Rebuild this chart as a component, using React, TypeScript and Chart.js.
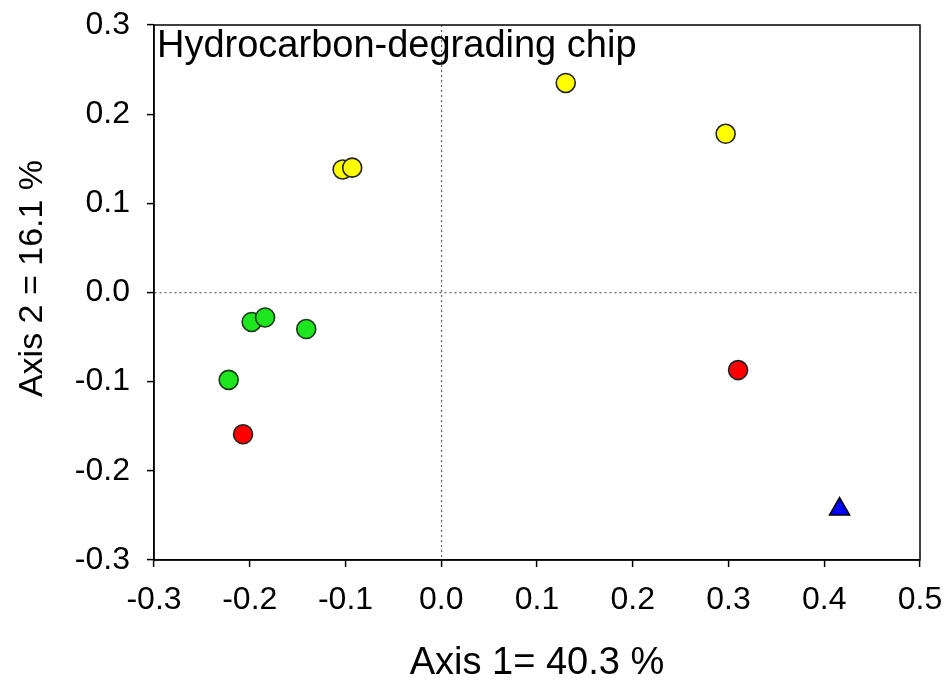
import React, { useEffect, useRef } from 'react';
import { Chart, registerables } from 'chart.js';

Chart.register(...registerables);

const FONT = '"Liberation Sans", Arial, Helvetica, sans-serif';

const chartTitle = 'Hydrocarbon-degrading chip';
const xAxisTitle = 'Axis 1= 40.3 %';
const yAxisTitle = 'Axis 2 = 16.1 %';

const xTicks = [-0.3, -0.2, -0.1, 0.0, 0.1, 0.2, 0.3, 0.4, 0.5];
const yTicks = [-0.3, -0.2, -0.1, 0.0, 0.1, 0.2, 0.3];

const yellowX = [0.130, 0.297, -0.103, -0.093];
const yellowY = [0.235, 0.178, 0.138, 0.140];

const greenX = [-0.198, -0.184, -0.141, -0.222];
const greenY = [-0.033, -0.028, -0.041, -0.098];

const redX = [-0.207, 0.310];
const redY = [-0.159, -0.087];

const blueX = [0.416];
const blueY = [-0.243];

const toPoints = (xs: number[], ys: number[]) => xs.map((x, i) => ({ x, y: ys[i] }));

const framePlugin = {
  id: 'frameAndTitle',
  afterDraw(chart: any) {
    const { ctx, chartArea } = chart;
    const { left, top, right, bottom } = chartArea;
    ctx.save();
    ctx.strokeStyle = '#000';
    ctx.lineWidth = 1.5;
    ctx.strokeRect(left, top, right - left, bottom - top);
    ctx.fillStyle = '#000';
    ctx.font = `38px ${FONT}`;
    ctx.textAlign = 'left';
    ctx.textBaseline = 'alphabetic';
    ctx.fillText(chartTitle, left + 3, top + 32);
    // y-axis title, placed like the original (slightly above the axis centre)
    ctx.font = `34px ${FONT}`;
    ctx.textAlign = 'center';
    ctx.textBaseline = 'middle';
    ctx.translate(33, (top + bottom) / 2 - 14);
    ctx.rotate(-Math.PI / 2);
    ctx.fillText(yAxisTitle, 0, 0);
    ctx.restore();
  },
};

const zeroColor = (c: any) =>
  c.tick && Math.abs(c.tick.value) < 1e-9 ? '#666666' : 'rgba(0,0,0,0)';

const noPad = (scale: any) => {
  scale.paddingTop = 0;
  scale.paddingBottom = 0;
  scale.paddingLeft = 0;
  scale.paddingRight = 0;
};

export default function App() {
  const ref = useRef<HTMLCanvasElement | null>(null);

  useEffect(() => {
    if (!ref.current) return;
    const chart = new Chart(ref.current, {
      type: 'scatter',
      data: {
        datasets: [
          {
            label: 'yellow',
            data: toPoints(yellowX, yellowY),
            backgroundColor: '#ffff00',
            borderColor: '#222222',
            borderWidth: 1.6,
            pointRadius: 9.5,
            pointStyle: 'circle',
          },
          {
            label: 'green',
            data: toPoints(greenX, greenY),
            backgroundColor: '#1ee61e',
            borderColor: '#1a3a1a',
            borderWidth: 1.6,
            pointRadius: 9.5,
            pointStyle: 'circle',
          },
          {
            label: 'red',
            data: toPoints(redX, redY),
            backgroundColor: '#ff0000',
            borderColor: '#222222',
            borderWidth: 1.6,
            pointRadius: 9.5,
            pointStyle: 'circle',
          },
          {
            label: 'blue',
            data: toPoints(blueX, blueY),
            backgroundColor: '#0000ff',
            borderColor: '#000000',
            borderWidth: 1.6,
            pointRadius: 11.5,
            pointStyle: 'triangle',
          },
        ],
      },
      options: {
        animation: false,
        responsive: true,
        maintainAspectRatio: false,
        layout: { padding: { left: 0, right: 30, top: 25, bottom: 0 } },
        plugins: {
          legend: { display: false },
          tooltip: { enabled: false },
          title: { display: false },
        },
        scales: {
          x: {
            type: 'linear',
            position: 'bottom',
            min: xTicks[0],
            max: xTicks[xTicks.length - 1],
            afterBuildTicks: (scale: any) => {
              scale.ticks = xTicks.map((v) => ({ value: v }));
            },
            afterFit: (scale: any) => {
              scale.height = 126;
              noPad(scale);
            },
            ticks: {
              color: '#000',
              font: { family: FONT, size: 32 },
              padding: 14,
              maxRotation: 0,
              autoSkip: false,
              callback: (v: any) => Number(v).toFixed(1),
            },
            grid: {
              color: zeroColor,
              lineWidth: 1.2,
              drawTicks: true,
              tickLength: 7,
              tickColor: '#000',
              tickWidth: 1.5,
              tickBorderDash: [],
            },
            border: { display: true, color: '#000', width: 1.5, dash: [2, 3] },
            title: {
              display: true,
              text: xAxisTitle,
              color: '#000',
              font: { family: FONT, size: 38 },
              padding: { top: 0, bottom: 0 },
            },
          },
          y: {
            type: 'linear',
            position: 'left',
            min: yTicks[0],
            max: yTicks[yTicks.length - 1],
            afterBuildTicks: (scale: any) => {
              scale.ticks = yTicks.map((v) => ({ value: v }));
            },
            afterFit: (scale: any) => {
              scale.width = 154;
              noPad(scale);
            },
            ticks: {
              color: '#000',
              font: { family: FONT, size: 32 },
              padding: 17,
              autoSkip: false,
              callback: (v: any) => Number(v).toFixed(1),
            },
            grid: {
              color: zeroColor,
              lineWidth: 1.2,
              drawTicks: true,
              tickLength: 7,
              tickColor: '#000',
              tickWidth: 1.5,
              tickBorderDash: [],
            },
            border: { display: true, color: '#000', width: 1.5, dash: [2, 3] },
            title: { display: false, text: yAxisTitle },
          },
        },
      },
      plugins: [framePlugin],
    } as any);
    return () => chart.destroy();
  }, []);

  return (
    <div style={{ position: 'absolute', left: 0, top: 0, width: 950, height: 686, background: '#fff' }}>
      <canvas ref={ref} />
    </div>
  );
}
